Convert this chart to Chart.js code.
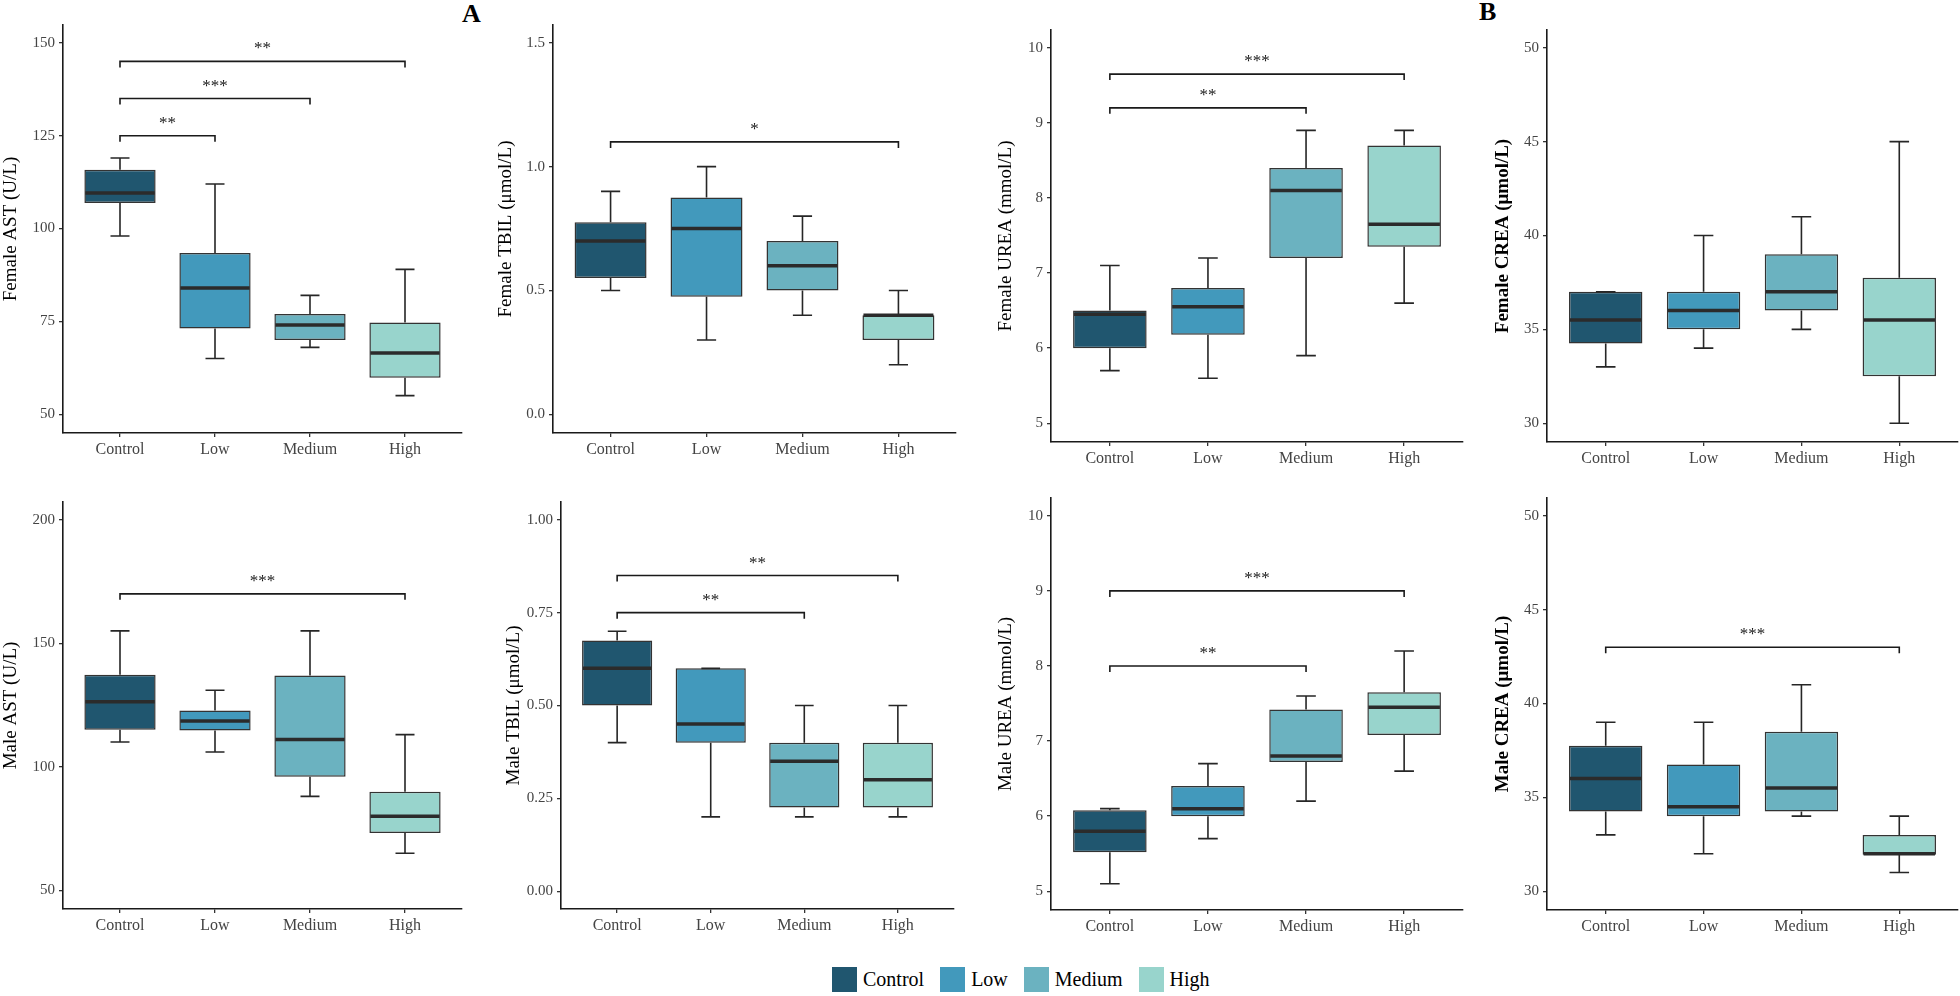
<!DOCTYPE html>
<html>
<head>
<meta charset="utf-8">
<script src="https://cdn.jsdelivr.net/npm/chart.js@4.4.1/dist/chart.umd.min.js"></script>
<style>
  body { margin: 0; width: 1960px; height: 996px; background: #fff; position: relative; overflow: hidden; font-family: "Liberation Serif", serif; }
  canvas { position: absolute; }
  .tag { position: absolute; font-weight: bold; font-size: 26px; line-height: 1; }
  #legend { position: absolute; top: 967px; left: 832px; display: flex; align-items: center; height: 25px; font-size: 20px; }
  #legend span.sw { display: inline-block; width: 25px; height: 25px; margin-right: 6px; }
  #legend span.lb { margin-right: 16px; }
</style>
</head>
<body>
<div class="tag" style="left:462px;top:1px">A</div>
<div class="tag" style="left:1479px;top:-1px">B</div>
<div id="legend"></div>

<script>
const FONT = '"Liberation Serif", "Times New Roman", serif';

const groups = ['Control', 'Low', 'Medium', 'High'];
const groupColors = ['#20566f', '#4299bc', '#6bb2c0', '#98d4cc'];

// box stats per group: [min, q1, median, q3, max]
const femaleAST = [[98, 106.9, 109.6, 115.8, 119], [65, 73.1, 84, 93.4, 112], [68, 70, 74, 77, 82], [55, 59.8, 66.5, 74.7, 89]];
const femaleTBIL = [[0.5, 0.55, 0.7, 0.775, 0.9], [0.3, 0.475, 0.75, 0.875, 1.0], [0.4, 0.5, 0.6, 0.7, 0.8], [0.2, 0.3, 0.4, 0.4, 0.5]];
const femaleUREA = [[5.7, 6.0, 6.45, 6.5, 7.1], [5.6, 6.18, 6.55, 6.8, 7.2], [5.9, 7.2, 8.1, 8.4, 8.9], [6.6, 7.35, 7.65, 8.7, 8.9]];
const femaleCREA = [[33, 34.25, 35.5, 37, 37], [34, 35, 36, 37, 40], [35, 36, 37, 39, 41], [30, 32.5, 35.5, 37.75, 45]];
const maleAST = [[110, 115, 126.3, 137.3, 155], [106, 114.7, 118.5, 122.8, 131], [88, 96, 111, 136.9, 155], [65, 73.2, 80, 89.9, 113]];
const maleTBIL = [[0.4, 0.5, 0.6, 0.675, 0.7], [0.2, 0.4, 0.45, 0.6, 0.6], [0.2, 0.225, 0.35, 0.4, 0.5], [0.2, 0.225, 0.3, 0.4, 0.5]];
const maleUREA = [[5.1, 5.52, 5.8, 6.08, 6.1], [5.7, 6.0, 6.1, 6.4, 6.7], [6.2, 6.72, 6.8, 7.42, 7.6], [6.6, 7.08, 7.45, 7.65, 8.2]];
const maleCREA = [[33, 34.25, 36, 37.75, 39], [32, 34, 34.5, 36.75, 39], [34, 34.25, 35.5, 38.5, 41], [31, 31.95, 32, 33, 34]];

// y tick labels
const femaleASTTicks = ['50', '75', '100', '125', '150'];
const femaleTBILTicks = ['0.0', '0.5', '1.0', '1.5'];
const ureaTicks = ['5', '6', '7', '8', '9', '10'];
const creaTicks = ['30', '35', '40', '45', '50'];
const maleASTTicks = ['50', '100', '150', '200'];
const maleTBILTicks = ['0.00', '0.25', '0.50', '0.75', '1.00'];

// significance brackets: [from group, to group, y value, label]
const femaleASTSig = [[0, 1, 125, '**'], [0, 2, 135, '***'], [0, 3, 145, '**']];
const femaleTBILSig = [[0, 3, 1.1, '*']];
const femaleUREASig = [[0, 2, 9.2, '**'], [0, 3, 9.65, '***']];
const femaleCREASig = [];
const maleASTSig = [[0, 3, 170, '***']];
const maleTBILSig = [[0, 2, 0.75, '**'], [0, 3, 0.85, '**']];
const maleUREASig = [[0, 2, 8.0, '**'], [0, 3, 9.0, '***']];
const maleCREASig = [[0, 3, 43, '***']];

// panel layout: plot area in page pixels plus y range
const panels = [
  { title: 'Female AST (U/L)', stats: femaleAST, ticks: femaleASTTicks, sig: femaleASTSig, x0: 63, x1: 462, y0: 20, y1: 433, yMin: 44.95, yMax: 154.8, yW: 66 },
  { title: 'Female TBIL (μmol/L)', stats: femaleTBIL, ticks: femaleTBILTicks, sig: femaleTBILSig, x0: 553, x1: 956, y0: 20, y1: 433, yMin: -0.0756, yMax: 1.572, yW: 61 },
  { title: 'Female UREA (mmol/L)', stats: femaleUREA, ticks: ureaTicks, sig: femaleUREASig, x0: 1051, x1: 1463, y0: 25, y1: 442, yMin: 4.75, yMax: 10.237, yW: 59 },
  { title: 'Female CREA (μmol/L)', stats: femaleCREA, ticks: creaTicks, sig: femaleCREASig, x0: 1547, x1: 1958, y0: 25, y1: 442, yMin: 29, yMax: 50.947, yW: 58, bold: true },
  { title: 'Male AST (U/L)', stats: maleAST, ticks: maleASTTicks, sig: maleASTSig, x0: 63, x1: 462, y0: 497, y1: 909, yMin: 42.4, yMax: 207.2, yW: 66 },
  { title: 'Male TBIL (μmol/L)', stats: maleTBIL, ticks: maleTBILTicks, sig: maleTBILSig, x0: 561, x1: 954, y0: 497, y1: 909, yMin: -0.048, yMax: 1.048, yW: 61 },
  { title: 'Male UREA (mmol/L)', stats: maleUREA, ticks: ureaTicks, sig: maleUREASig, x0: 1051, x1: 1463, y0: 493, y1: 910, yMin: 4.75, yMax: 10.237, yW: 59 },
  { title: 'Male CREA (μmol/L)', stats: maleCREA, ticks: creaTicks, sig: maleCREASig, x0: 1547, x1: 1958, y0: 493, y1: 910, yMin: 29, yMax: 50.95, yW: 58, bold: true }
];

// whiskers, medians and significance brackets
const boxPlugin = {
  id: 'boxes',
  afterDatasetsDraw(chart, args, opts) {
    const ctx = chart.ctx;
    const x = chart.scales.x, y = chart.scales.y;
    const bars = chart.getDatasetMeta(0).data;
    ctx.save();
    ctx.strokeStyle = '#262626';
    ctx.lineWidth = 1.6;
    opts.stats.forEach((s, i) => {
      const cx = x.getPixelForValue(i);
      const capL = x.getPixelForValue(i - 0.1), capR = x.getPixelForValue(i + 0.1);
      ctx.beginPath();
      ctx.moveTo(cx, y.getPixelForValue(s[3])); ctx.lineTo(cx, y.getPixelForValue(s[4]));
      ctx.moveTo(capL, y.getPixelForValue(s[4])); ctx.lineTo(capR, y.getPixelForValue(s[4]));
      ctx.moveTo(cx, y.getPixelForValue(s[1])); ctx.lineTo(cx, y.getPixelForValue(s[0]));
      ctx.moveTo(capL, y.getPixelForValue(s[0])); ctx.lineTo(capR, y.getPixelForValue(s[0]));
      ctx.stroke();
    });
    ctx.lineWidth = 3.5;
    ctx.strokeStyle = '#2b2b2b';
    opts.stats.forEach((s, i) => {
      const b = bars[i];
      const my = y.getPixelForValue(s[2]);
      ctx.beginPath();
      ctx.moveTo(b.x - b.width / 2 + 1, my); ctx.lineTo(b.x + b.width / 2 - 1, my);
      ctx.stroke();
    });
    ctx.lineWidth = 1.6;
    ctx.strokeStyle = '#1a1a1a';
    ctx.fillStyle = '#1a1a1a';
    ctx.font = '17px ' + FONT;
    ctx.textAlign = 'center';
    ctx.textBaseline = 'alphabetic';
    opts.sig.forEach(([a, b, v, label]) => {
      const xa = x.getPixelForValue(a), xb = x.getPixelForValue(b), yy = y.getPixelForValue(v);
      ctx.beginPath();
      ctx.moveTo(xa, yy + 6); ctx.lineTo(xa, yy); ctx.lineTo(xb, yy); ctx.lineTo(xb, yy + 6);
      ctx.stroke();
      ctx.fillText(label, (xa + xb) / 2, yy - 8);
    });
    ctx.restore();
  }
};

const PAD_TOP = 8, PAD_RIGHT = 4, X_H = 36;

panels.forEach(p => {
  const cv = document.createElement('canvas');
  const w = p.yW + (p.x1 - p.x0) + PAD_RIGHT;
  const h = PAD_TOP + (p.y1 - p.y0) + X_H;
  cv.width = w; cv.height = h;
  cv.style.left = (p.x0 - p.yW) + 'px';
  cv.style.top = (p.y0 - PAD_TOP) + 'px';
  cv.style.width = w + 'px'; cv.style.height = h + 'px';
  document.body.appendChild(cv);

  new Chart(cv.getContext('2d'), {
    type: 'bar',
    data: {
      datasets: [{
        data: p.stats.map((s, i) => ({ x: i, y: [s[1], s[3]] })),
        backgroundColor: groupColors,
        borderColor: '#333333',
        borderWidth: 1.5,
        borderSkipped: false,
        barPercentage: 1,
        categoryPercentage: 0.75
      }]
    },
    options: {
      responsive: false,
      animation: false,
      devicePixelRatio: 1,
      layout: { padding: { top: PAD_TOP, right: PAD_RIGHT, left: 0, bottom: 0 } },
      plugins: {
        legend: { display: false },
        tooltip: { enabled: false },
        boxes: { stats: p.stats, sig: p.sig }
      },
      scales: {
        x: {
          type: 'linear',
          min: -0.6, max: 3.6,
          offset: false,
          afterBuildTicks: s => { s.ticks = groups.map((g, i) => ({ value: i })); },
          afterFit: s => { s.height = X_H; },
          grid: { offset: false, drawOnChartArea: false, tickLength: 4, color: '#333', lineWidth: 1.3 },
          border: { display: true, color: '#1a1a1a', width: 1.6 },
          ticks: { callback: v => groups[Math.round(v)], font: { family: FONT, size: 16 }, color: '#444', padding: 3, maxRotation: 0, autoSkip: false }
        },
        y: {
          type: 'linear',
          min: p.yMin, max: p.yMax,
          beginAtZero: false,
          afterBuildTicks: s => { s.ticks = p.ticks.map(t => ({ value: parseFloat(t) })); },
          afterFit: s => { s.width = p.yW; },
          grid: { drawOnChartArea: false, tickLength: 4, color: '#333', lineWidth: 1.3 },
          border: { display: true, color: '#1a1a1a', width: 1.6 },
          ticks: { callback: (v, i) => p.ticks[i], font: { family: FONT, size: 15 }, color: '#444', padding: 4, autoSkip: false },
          title: { display: true, text: p.title, color: '#000', font: { family: FONT, size: 19, weight: p.bold ? 'bold' : 'normal' }, padding: { top: 3, bottom: 4 } }
        }
      }
    },
    plugins: [boxPlugin]
  });
});

// shared legend
const legend = document.getElementById('legend');
groups.forEach((g, i) => {
  const sw = document.createElement('span');
  sw.className = 'sw';
  sw.style.background = groupColors[i];
  const lb = document.createElement('span');
  lb.className = 'lb';
  lb.textContent = g;
  legend.appendChild(sw);
  legend.appendChild(lb);
});
</script>
</body>
</html>
